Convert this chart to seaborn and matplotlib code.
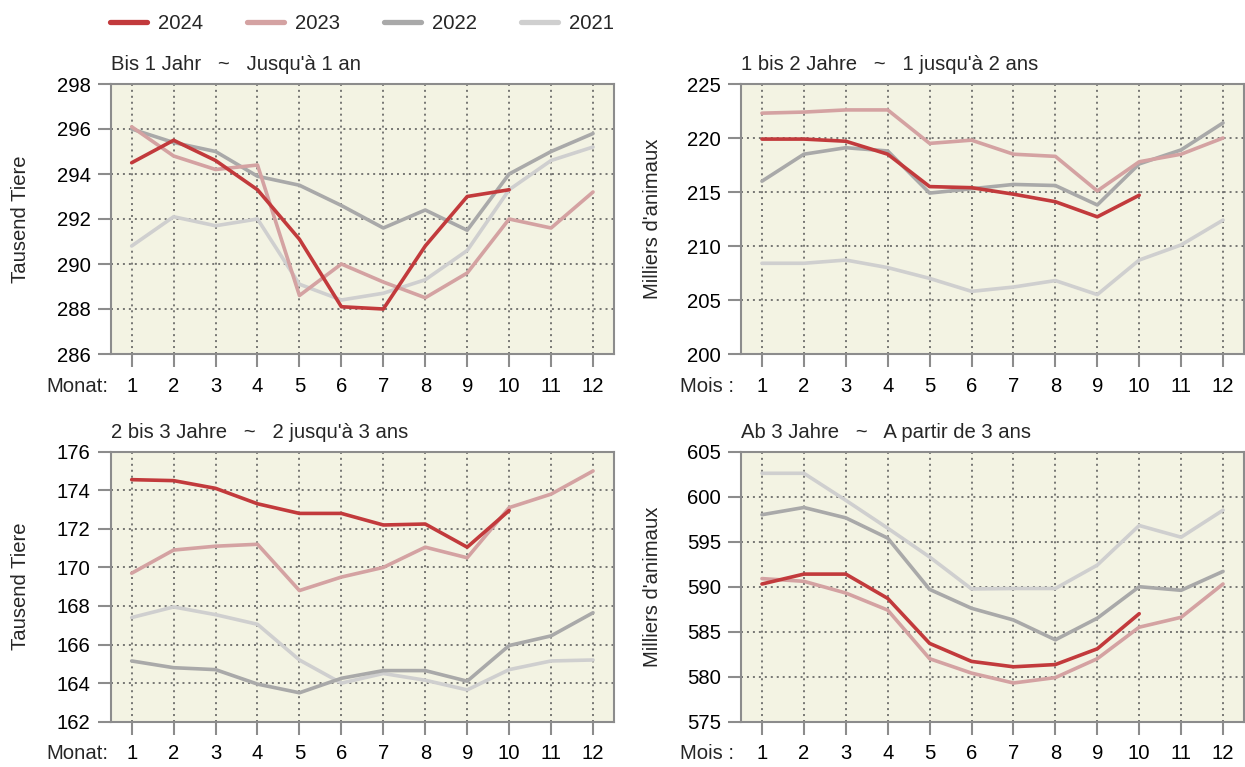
import numpy as np
import pandas as pd
import matplotlib
matplotlib.use("Agg")
import matplotlib.pyplot as plt
from matplotlib.lines import Line2D
import seaborn as sns

# ---------------- data ----------------
months = list(range(1, 13))
years = ["2024", "2023", "2022", "2021"]

# Panel 1: Bis 1 Jahr
p1_2024 = [294.5, 295.5, 294.6, 293.3, 291.1, 288.1, 288.0, 290.8, 293.0, 293.3]
p1_2023 = [296.1, 294.8, 294.2, 294.4, 288.6, 290.0, 289.2, 288.5, 289.6, 292.0, 291.6, 293.2]
p1_2022 = [296.0, 295.4, 295.0, 293.9, 293.5, 292.6, 291.6, 292.4, 291.5, 294.0, 295.0, 295.8]
p1_2021 = [290.8, 292.1, 291.7, 292.0, 289.1, 288.4, 288.7, 289.3, 290.6, 293.3, 294.6, 295.2]

# Panel 2: 1 bis 2 Jahre
p2_2024 = [219.9, 219.9, 219.7, 218.5, 215.5, 215.4, 214.8, 214.1, 212.7, 214.7]
p2_2023 = [222.3, 222.4, 222.6, 222.6, 219.5, 219.8, 218.5, 218.3, 215.1, 217.8, 218.5, 220.0]
p2_2022 = [216.0, 218.5, 219.1, 218.8, 214.9, 215.3, 215.7, 215.6, 213.8, 217.6, 218.9, 221.4]
p2_2021 = [208.4, 208.4, 208.7, 208.0, 207.0, 205.8, 206.2, 206.8, 205.5, 208.7, 210.1, 212.4]

# Panel 3: 2 bis 3 Jahre
p3_2024 = [174.55, 174.5, 174.1, 173.3, 172.8, 172.8, 172.2, 172.25, 171.05, 172.95]
p3_2023 = [169.7, 170.9, 171.1, 171.2, 168.8, 169.5, 170.0, 171.05, 170.5, 173.1, 173.8, 175.0]
p3_2022 = [165.15, 164.8, 164.7, 163.95, 163.5, 164.25, 164.65, 164.65, 164.1, 165.95, 166.45, 167.65]
p3_2021 = [167.4, 167.95, 167.55, 167.05, 165.2, 164.0, 164.5, 164.15, 163.65, 164.7, 165.15, 165.2]

# Panel 4: Ab 3 Jahre
p4_2024 = [590.3, 591.4, 591.4, 588.7, 583.7, 581.7, 581.1, 581.35, 583.1, 587.0]
p4_2023 = [590.9, 590.6, 589.3, 587.4, 582.0, 580.4, 579.3, 579.9, 582.0, 585.5, 586.6, 590.3]
p4_2022 = [598.0, 598.8, 597.65, 595.4, 589.7, 587.6, 586.3, 584.1, 586.5, 590.0, 589.6, 591.7]
p4_2021 = [602.6, 602.6, 599.6, 596.5, 593.3, 589.75, 589.8, 589.8, 592.4, 596.8, 595.5, 598.5]

titles = ["Bis 1 Jahr   ~   Jusqu'à 1 an",
          "1 bis 2 Jahre   ~   1 jusqu'à 2 ans",
          "2 bis 3 Jahre   ~   2 jusqu'à 3 ans",
          "Ab 3 Jahre   ~   A partir de 3 ans"]
ylabels = ["Tausend Tiere", "Milliers d'animaux", "Tausend Tiere", "Milliers d'animaux"]
xlabels = ["Monat:", "Mois :", "Monat:", "Mois :"]
yticks_list = [list(range(286, 299, 2)), list(range(200, 226, 5)),
               list(range(162, 177, 2)), list(range(575, 606, 5))]

panels = [
    {"2024": p1_2024, "2023": p1_2023, "2022": p1_2022, "2021": p1_2021},
    {"2024": p2_2024, "2023": p2_2023, "2022": p2_2022, "2021": p2_2021},
    {"2024": p3_2024, "2023": p3_2023, "2022": p3_2022, "2021": p3_2021},
    {"2024": p4_2024, "2023": p4_2023, "2022": p4_2022, "2021": p4_2021},
]

colors = {"2024": "#C23A3C", "2023": "#D4A2A2", "2022": "#A9A9A9", "2021": "#CFCFCF"}

# ---------------- style ----------------
sns.set_theme(style="white")
plt.rcParams["font.family"] = ["Liberation Sans", "DejaVu Sans"]
FS = 14.6
plt.rcParams["font.size"] = FS

W, H = 1245, 767
fig = plt.figure(figsize=(W / 100, H / 100), dpi=100)

def px_axes(left, top, right, bottom):
    return [left / W, 1 - bottom / H, (right - left) / W, (bottom - top) / H]

rects = [px_axes(110.7, 84, 614, 354), px_axes(741, 84, 1244, 354),
         px_axes(110.7, 451.7, 614, 721.7), px_axes(741, 451.7, 1244, 721.7)]

spine_col = "#8C8C8C"
tick_len = 9.4
xpad = 7

for i, (rect, pdata) in enumerate(zip(rects, panels)):
    ax = fig.add_axes(rect)
    rows = []
    for y in years:
        vals = pdata[y]
        for m, v in zip(months[:len(vals)], vals):
            rows.append({"Monat": m, "Wert": v, "Jahr": y})
    df = pd.DataFrame(rows)
    sns.lineplot(data=df, x="Monat", y="Wert", hue="Jahr",
                 hue_order=["2021", "2022", "2023", "2024"], palette=colors,
                 linewidth=2.6, legend=False, ax=ax, zorder=3)
    ax.set_facecolor("#F3F3E3")
    ax.set_xlim(0.5, 12.5)
    yt = yticks_list[i]
    ax.set_ylim(yt[0], yt[-1])
    ax.set_xticks(months)
    ax.set_xticklabels([str(m) for m in months])
    ax.set_yticks(yt)
    ax.set_yticklabels([str(v) for v in yt])
    ax.grid(True, color="#555555", linestyle=(0, (1.3, 2.6)), linewidth=1.1, zorder=1)
    ax.set_axisbelow(True)
    for s in ax.spines.values():
        s.set_color(spine_col)
        s.set_linewidth(1.5)
    ax.tick_params(axis="x", length=tick_len, width=1.5, color=spine_col,
                   pad=xpad, labelsize=FS, labelcolor="black", bottom=True)
    ax.tick_params(axis="y", length=tick_len, width=1.5, color=spine_col,
                   pad=5, labelsize=FS, labelcolor="black", left=True)
    ax.set_xlabel("")
    ax.set_ylabel(ylabels[i], fontsize=FS)
    ax.yaxis.set_label_coords(-0.160 if i % 2 == 0 else -0.158, 0.5)
    ax.annotate(titles[i], xy=(0, 1), xycoords="axes fraction",
                xytext=(0, 10), textcoords="offset points",
                ha="left", va="baseline", fontsize=FS)
    ax.annotate(xlabels[i], xy=(0, 0), xycoords="axes fraction",
                xytext=(-2 if i % 2 == 0 else -5, -(tick_len + xpad)),
                textcoords="offset points", ha="right", va="top", fontsize=FS)

handles = [Line2D([0], [0], color=colors[y], linewidth=3.8) for y in years]
fig.legend(handles, years, loc="center left", bbox_to_anchor=(110 / W, 1 - 23.5 / H),
           ncol=4, frameon=False, fontsize=FS, handlelength=1.82,
           handletextpad=0.54, columnspacing=2.17, borderaxespad=0, borderpad=0)

fig.savefig("out.png", dpi=100)
